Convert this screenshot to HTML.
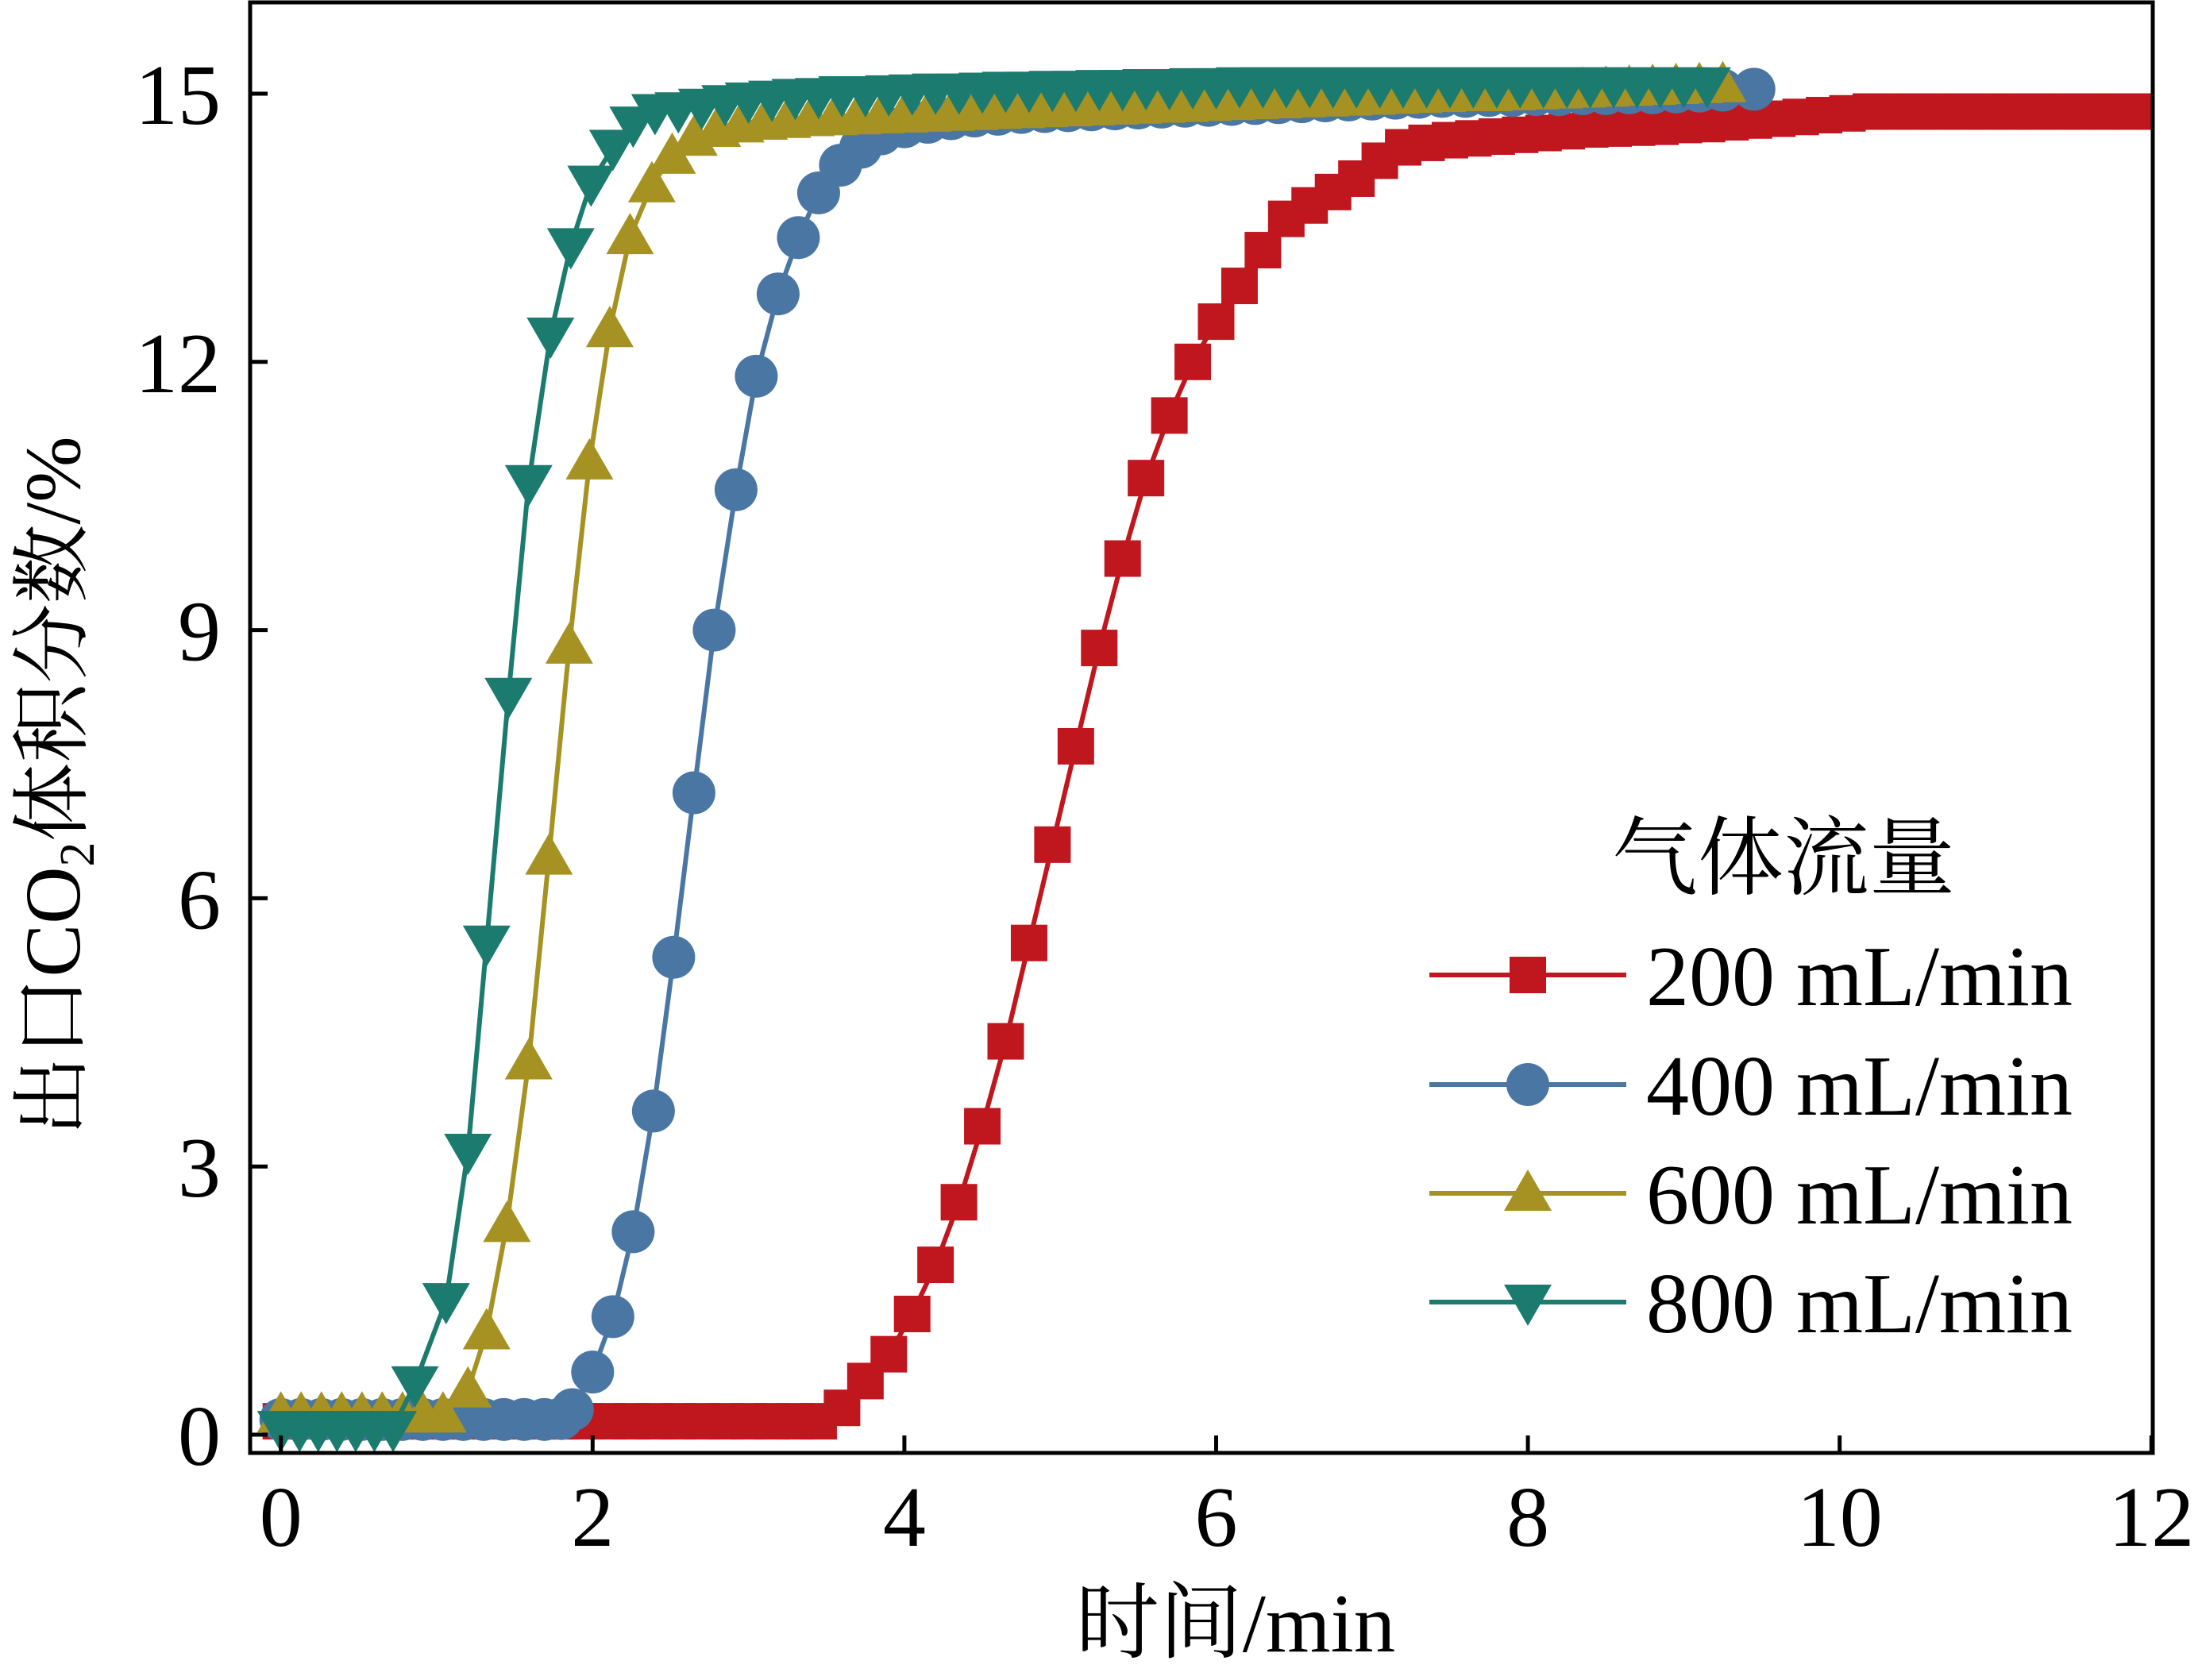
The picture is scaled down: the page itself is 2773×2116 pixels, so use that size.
<!DOCTYPE html>
<html><head><meta charset="utf-8"><style>
html,body{margin:0;padding:0;background:#fff;}
svg{display:block;}
text{font-family:"Liberation Serif","Noto Serif CJK SC","Noto Sans CJK SC",serif;fill:#000;}
</style></head><body>
<svg id="chart" width="2773" height="2116" viewBox="0 0 2773 2116" xmlns="http://www.w3.org/2000/svg">
<defs><clipPath id="plotclip"><rect x="315" y="3" width="2396" height="1827"/></clipPath></defs>
<g id="series" clip-path="url(#plotclip)"></g>
<rect x="315" y="3" width="2396" height="1827" fill="none" stroke="#000" stroke-width="5"/>
<g id="axes"></g>
<text transform="translate(100,990) rotate(-90)" text-anchor="middle" font-size="100">出口CO<tspan font-size="62" dy="18">2</tspan><tspan dy="-18">体积分数/%</tspan></text>
<text x="1556" y="2080" text-anchor="middle" font-size="105">时间/min</text>
<g id="legend">
<text x="2030" y="1118" font-size="108">气体流量</text>
</g>
</svg>
<script>
const xTicks=[0,2,4,6,8,10,12];
const yTicks=[0,3,6,9,12,15];
const names=["200 mL/min","400 mL/min","600 mL/min","800 mL/min"];
const colors=["#c0171f","#4a76a3","#a69222","#1b7b6e"];
const shapes=["square","circle","up","down"];
const redT=[0,0.15,0.3,0.45,0.6,0.75,0.9,1.05,1.2,1.35,1.5,1.65,1.8,1.95,2.1,2.25,2.4,2.55,2.7,2.85,3.0,3.15,3.3,3.45,3.6,3.75,3.9,4.05,4.2,4.35,4.5,4.65,4.8,4.95,5.1,5.25,5.4,5.55,5.7,5.85,6.0,6.15,6.3,6.45,6.6,6.75,6.9,7.05,7.2,7.35,7.5,7.65,7.8,7.95,8.1,8.25,8.4,8.55,8.7,8.85,9.0,9.15,9.3,9.45,9.6,9.75,9.9,10.05,10.2,10.35,10.5,10.65,10.8,10.95,11.1,11.25,11.4,11.55,11.7,11.85,12.0];
const redV=[0.15,0.15,0.15,0.15,0.15,0.15,0.15,0.15,0.15,0.15,0.15,0.15,0.15,0.15,0.15,0.15,0.15,0.15,0.15,0.15,0.15,0.15,0.15,0.15,0.3,0.6,0.9,1.35,1.9,2.6,3.45,4.4,5.5,6.6,7.7,8.8,9.8,10.7,11.4,12.0,12.45,12.85,13.25,13.6,13.75,13.9,14.05,14.25,14.4,14.45,14.48,14.5,14.52,14.54,14.56,14.58,14.6,14.61,14.62,14.63,14.65,14.66,14.68,14.7,14.72,14.74,14.76,14.78,14.8,14.8,14.8,14.8,14.8,14.8,14.8,14.8,14.8,14.8,14.8,14.8,14.8];
const blueT=[0,0.13,0.26,0.39,0.52,0.65,0.78,0.91,1.04,1.17,1.3,1.43,1.56,1.69,1.8,1.87,2.0,2.13,2.26,2.39,2.52,2.65,2.78,2.92,3.05,3.19,3.32,3.45,3.59,3.72,3.85,4.0,4.15,4.3,4.45,4.6,4.75,4.9,5.05,5.2,5.35,5.5,5.65,5.8,5.95,6.1,6.25,6.4,6.55,6.7,6.85,7.0,7.15,7.3,7.45,7.6,7.75,7.9,8.05,8.2,8.35,8.5,8.65,8.8,8.95,9.1,9.25,9.45];
const blueV=[0.17,0.17,0.17,0.17,0.17,0.17,0.17,0.17,0.17,0.17,0.17,0.17,0.17,0.17,0.18,0.28,0.7,1.32,2.27,3.62,5.34,7.18,9.0,10.57,11.84,12.76,13.39,13.89,14.2,14.4,14.55,14.63,14.68,14.72,14.75,14.77,14.79,14.8,14.81,14.82,14.83,14.84,14.85,14.86,14.87,14.88,14.89,14.9,14.91,14.92,14.93,14.94,14.95,14.96,14.97,14.97,14.98,14.98,14.99,14.99,15.0,15.0,15.01,15.01,15.02,15.03,15.04,15.05];
const goldT=[0,0.13,0.26,0.39,0.52,0.65,0.78,0.91,1.04,1.2,1.32,1.45,1.59,1.72,1.85,1.98,2.11,2.24,2.38,2.51,2.65,2.8,2.95,3.1,3.25,3.4,3.55,3.7,3.85,4.0,4.15,4.3,4.45,4.6,4.75,4.9,5.05,5.2,5.35,5.5,5.65,5.8,5.95,6.1,6.25,6.4,6.55,6.7,6.85,7.0,7.15,7.3,7.45,7.6,7.75,7.9,8.05,8.2,8.35,8.5,8.65,8.8,8.95,9.1,9.25];
const goldV=[0.22,0.22,0.22,0.22,0.22,0.22,0.22,0.22,0.22,0.5,1.15,2.35,4.17,6.46,8.82,10.88,12.36,13.4,13.98,14.3,14.5,14.6,14.65,14.68,14.7,14.72,14.73,14.74,14.75,14.76,14.77,14.78,14.79,14.8,14.81,14.82,14.83,14.84,14.85,14.86,14.87,14.88,14.89,14.9,14.91,14.92,14.93,14.94,14.95,14.96,14.97,14.98,14.99,15.0,15.0,15.01,15.02,15.03,15.04,15.05,15.06,15.07,15.08,15.09,15.1];
const tealT=[0,0.12,0.24,0.36,0.48,0.6,0.72,0.86,1.06,1.2,1.32,1.46,1.59,1.73,1.86,1.99,2.13,2.26,2.4,2.55,2.7,2.85,3.0,3.15,3.3,3.45,3.6,3.75,3.9,4.05,4.2,4.35,4.5,4.65,4.8,4.95,5.1,5.25,5.4,5.55,5.7,5.85,6.0,6.15,6.3,6.45,6.6,6.75,6.9,7.05,7.2,7.35,7.5,7.65,7.8,7.95,8.1,8.25,8.4,8.55,8.7,8.85,9.0,9.15];
const tealV=[0.07,0.07,0.07,0.07,0.07,0.07,0.07,0.57,1.5,3.17,5.5,8.27,10.65,12.3,13.3,14.0,14.4,14.66,14.8,14.82,14.86,14.9,14.93,14.95,14.97,14.98,15.0,15.0,15.01,15.02,15.03,15.03,15.04,15.05,15.05,15.06,15.06,15.07,15.07,15.08,15.08,15.09,15.09,15.1,15.1,15.1,15.1,15.1,15.1,15.1,15.1,15.1,15.1,15.1,15.1,15.1,15.1,15.1,15.1,15.1,15.1,15.1,15.1,15.1];
const seriesT=[redT,blueT,goldT,tealT];
const seriesV=[redV,blueV,goldV,tealV];

const NS="http://www.w3.org/2000/svg";
const X=t=>353.7+t*196.3;
const Y=v=>1807-v*112.6;
function mk(tag,attrs,parent){const e=document.createElementNS(NS,tag);for(const k in attrs)e.setAttribute(k,attrs[k]);parent.appendChild(e);return e;}
function marker(shape,cx,cy,color,parent){
  let e;
  if(shape==="square") e=mk("rect",{x:cx-23,y:cy-23,width:46,height:46,fill:color},parent);
  else if(shape==="circle") e=mk("circle",{cx:cx,cy:cy,r:27,fill:color},parent);
  else if(shape==="up") e=mk("polygon",{points:`${cx},${cy-30} ${cx+30},${cy+22} ${cx-30},${cy+22}`,fill:color},parent);
  else e=mk("polygon",{points:`${cx-30},${cy-22} ${cx+30},${cy-22} ${cx},${cy+30}`,fill:color},parent);
  return e;
}
const axes=document.getElementById("axes");
xTicks.forEach(t=>{
  const l=mk("line",{x1:X(t),x2:X(t),y1:1830,y2:1808,stroke:"#000","stroke-width":5},axes);
  
  
  const tx=mk("text",{x:X(t),y:1947,"text-anchor":"middle","font-size":108},axes);
  tx.textContent=t;
  
  
});
yTicks.forEach(v=>{
  const l=mk("line",{x1:315,x2:337,y1:Y(v),y2:Y(v),stroke:"#000","stroke-width":5},axes);
  
  
  const tx=mk("text",{x:278,y:Y(v)+38,"text-anchor":"end","font-size":108},axes);
  tx.textContent=v;
  
  
});
const sg=document.getElementById("series");
seriesT.forEach((ts,i)=>{
  const vs=seriesV[i];
  const n=Math.min(ts.length,vs.length);
  const g=mk("g",{},sg);
  
  
  let d="";
  for(let k=0;k<n;k++) d+=(k?"L":"M")+X(ts[k]).toFixed(1)+","+Y(vs[k]).toFixed(1);
  const p=mk("path",{d:d,fill:"none",stroke:colors[i],"stroke-width":6},g);
  
  
  for(let k=0;k<n;k++){
    const m=marker(shapes[i],X(ts[k]),Y(vs[k]),colors[i],g);
    
    
  }
});
const lg=document.getElementById("legend");
const ly=[1228,1366,1503,1640];
names.forEach((nm,i)=>{
  const g=mk("g",{},lg);
  
  
  mk("line",{x1:1800,x2:2048,y1:ly[i],y2:ly[i],stroke:colors[i],"stroke-width":6},g);
  marker(shapes[i],1924,ly[i],colors[i],g);
  const t=mk("text",{x:2073,y:ly[i]+38,"font-size":108},g);
  t.textContent=nm;
});
</script>
</body></html>
